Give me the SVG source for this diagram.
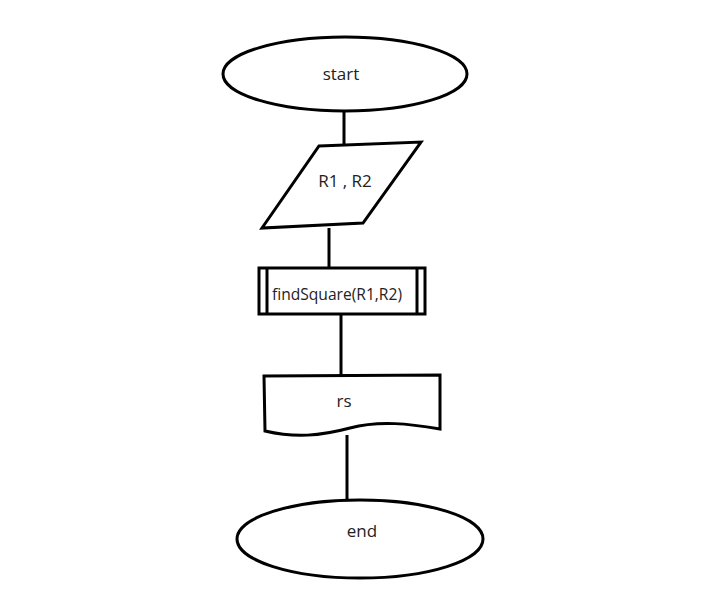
<svg xmlns="http://www.w3.org/2000/svg" width="710" height="599" viewBox="0 0 710 599">
<style>
.s{fill:#fff;stroke:#000;stroke-width:3;stroke-linejoin:miter}
.c{fill:none;stroke:#000;stroke-width:3}
.t{font-family:"Open Sans","Noto Sans",sans-serif;font-size:17px;fill:#222}
</style>
<rect width="710" height="599" fill="#fff"/>
<g id="connectors">
<line class="c" x1="344" y1="111" x2="344" y2="145"/>
<line class="c" x1="329" y1="228" x2="329" y2="268"/>
<line class="c" x1="341" y1="314" x2="341" y2="375"/>
<line class="c" x1="347" y1="435" x2="347" y2="500"/>
</g>
<g id="start">
<ellipse class="s" cx="345" cy="74" rx="122" ry="37"/>
<text class="t" x="341" y="80" text-anchor="middle">start</text>
</g>
<g id="input">
<polygon class="s" points="319,146 421,142 363,223 262,228"/>
<text class="t" x="345" y="187" text-anchor="middle" font-size="16">R1 , R2</text>
</g>
<g id="process">
<rect class="s" x="259" y="268" width="166" height="46"/>
<line class="c" x1="267" y1="268" x2="267" y2="314"/>
<line class="c" x1="417" y1="268" x2="417" y2="314"/>
<text class="t" x="272" y="300" font-size="15" textLength="130" lengthAdjust="spacingAndGlyphs">findSquare(R1,R2)</text>
</g>
<g id="output">
<path class="s" d="M264,376 L440,375 L440,429 C410,424 380,420 350,428 C320,436 295,438 265,431 Z"/>
<text class="t" x="344" y="407" text-anchor="middle" font-size="15">rs</text>
</g>
<g id="end">
<ellipse class="s" cx="360" cy="539" rx="123" ry="39"/>
<text class="t" x="362" y="537" text-anchor="middle">end</text>
</g>
</svg>
